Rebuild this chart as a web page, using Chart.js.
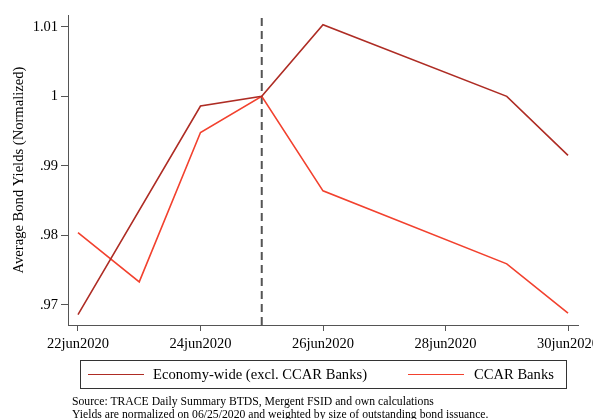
<!DOCTYPE html>
<html>
<head>
<meta charset="utf-8">
<script src="https://cdn.jsdelivr.net/npm/chart.js@4.4.1/dist/chart.umd.min.js"></script>
<style>
  html, body { margin: 0; padding: 0; background: #fff; }
  #wrap { position: relative; width: 593px; height: 419px; overflow: hidden; font-family: "Liberation Serif", "Times New Roman", serif; }
  #c { position: absolute; left: 0; top: 0; }
  #legend { position: absolute; left: 80px; top: 360px; width: 485px; height: 27px; border: 1px solid #333; box-sizing: content-box; }
  .li { position: absolute; top: 0; height: 27px; line-height: 27px; font-size: 14.6px; color: #000; white-space: nowrap; }
  .sw { position: absolute; top: 13px; width: 56px; height: 0; border-top: 1.6px solid; }
  #note { position: absolute; left: 72px; top: 396px; font-size: 11.7px; line-height: 12.5px; color: #000; white-space: nowrap; }
</style>
</head>
<body>
<div id="wrap">
  <canvas id="c" width="593" height="419"></canvas>
  <div id="legend"></div>
  <div id="note">Source: TRACE Daily Summary BTDS, Mergent FSID and own calculations<br>Yields are normalized on 06/25/2020 and weighted by size of outstanding bond issuance.</div>
</div>
<script>
// ---- data ----
const seriesNames = ['Economy-wide (excl. CCAR Banks)', 'CCAR Banks'];
const econDays = [22, 24, 25, 26, 29, 30];
const econValues = [0.9686, 0.9986, 1.0000, 1.0103, 1.0000, 0.9915];
const ccarDays = [22, 23, 24, 25, 26, 29, 30];
const ccarValues = [0.9804, 0.9733, 0.9948, 1.0000, 0.9864, 0.9759, 0.9688];
const xTickDays = [22, 24, 26, 28, 30];
const xTickLabels = ['22jun2020', '24jun2020', '26jun2020', '28jun2020', '30jun2020'];
const yTickValues = [0.97, 0.98, 0.99, 1.00, 1.01];
const yTickLabels = ['.97', '.98', '.99', '1', '1.01'];
const eventDay = 25;
const yTitle = 'Average Bond Yields (Normalized)';

const colors = ['#AE2C24', '#F2412E'];
const yMin = 0.9671, yMax = 1.0117;

const toPts = (xs, ys) => xs.map((x, i) => ({ x: x, y: ys[i] }));

const datasets = [
  { label: seriesNames[0], data: toPts(econDays, econValues), borderColor: colors[0], borderWidth: 1.6, pointRadius: 0, tension: 0, fill: false },
  { label: seriesNames[1], data: toPts(ccarDays, ccarValues), borderColor: colors[1], borderWidth: 1.6, pointRadius: 0, tension: 0, fill: false },
  { label: 'event', data: [{ x: eventDay, y: yMin }, { x: eventDay, y: yMax }], borderColor: '#555', borderWidth: 2, borderDash: [8, 5], pointRadius: 0, fill: false }
];

const font = { family: '"Liberation Serif", "Times New Roman", serif', size: 14.5 };

new Chart(document.getElementById('c'), {
  type: 'line',
  data: { datasets: datasets },
  options: {
    responsive: false,
    animation: false,
    events: [],
    layout: { padding: { top: 15, right: 15, bottom: 0, left: 0 } },
    plugins: { legend: { display: false }, tooltip: { enabled: false } },
    scales: {
      x: {
        type: 'linear',
        min: 21.837, max: 30.163,
        afterBuildTicks: s => { s.ticks = xTickDays.map(v => ({ value: v })); },
        afterFit: s => { s.height = 94; s.paddingLeft = 0; s.paddingRight = 0; },
        ticks: { autoSkip: false, maxRotation: 0, padding: 4, color: '#000', font: font,
                 callback: (v) => { const i = xTickDays.indexOf(v); return i >= 0 ? xTickLabels[i] : ''; } },
        grid: { drawOnChartArea: false, drawTicks: true, tickLength: 6, color: '#555' },
        border: { display: true, color: '#555', width: 1 }
      },
      y: {
        type: 'linear',
        min: yMin, max: yMax,
        afterBuildTicks: s => { s.ticks = yTickValues.map(v => ({ value: v })); },
        afterFit: s => { s.width = 68; s.paddingTop = 0; s.paddingBottom = 0; },
        ticks: { autoSkip: false, padding: 3, color: '#000', font: font,
                 callback: (v) => { const i = yTickValues.findIndex(t => Math.abs(t - v) < 1e-9); return i >= 0 ? yTickLabels[i] : ''; } },
        grid: { drawOnChartArea: false, drawTicks: true, tickLength: 7, color: '#555' },
        border: { display: true, color: '#555', width: 1 },
        title: { display: true, text: yTitle, color: '#000', padding: { top: 10, bottom: 4 },
                 font: { family: '"Liberation Serif", "Times New Roman", serif', size: 14.6 } }
      }
    }
  }
});

// HTML legend built from the series names/colors
const legend = document.getElementById('legend');
const legendPos = [{ sw: 7, tx: 72 }, { sw: 327, tx: 393 }];
seriesNames.forEach((name, i) => {
  const sw = document.createElement('div');
  sw.className = 'sw';
  sw.style.left = legendPos[i].sw + 'px';
  sw.style.borderTopColor = colors[i];
  legend.appendChild(sw);
  const t = document.createElement('div');
  t.className = 'li';
  t.style.left = legendPos[i].tx + 'px';
  t.textContent = name;
  legend.appendChild(t);
});
</script>
</body>
</html>
